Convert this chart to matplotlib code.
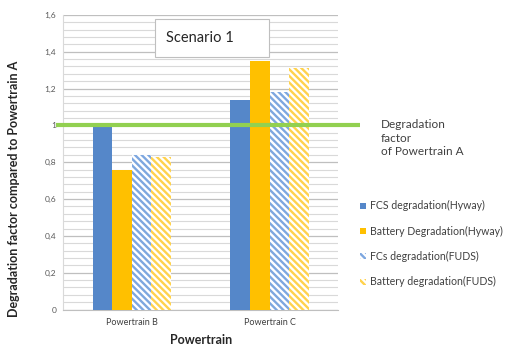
import numpy as np
import matplotlib.pyplot as plt
from matplotlib.patches import Rectangle
from matplotlib.ticker import MultipleLocator, FuncFormatter

plt.rcParams['font.family'] = ['Lato', 'DejaVu Sans']
plt.rcParams['hatch.linewidth'] = 1.7

# data
powertrains = ['Powertrain B', 'Powertrain C']
series_names = ['FCS degradation(Hyway)', 'Battery Degradation(Hyway)',
                'FCs degradation(FUDS)', 'Battery degradation(FUDS)']
fcs_hyway = [0.99, 1.14]
battery_hyway = [0.76, 1.35]
fcs_fuds = [0.84, 1.18]
battery_fuds = [0.83, 1.31]
reference_level = 1.0

blue = '#5587C9'
yellow = '#FFC000'

fig = plt.figure(figsize=(5.05, 3.47), dpi=100)
ax = fig.add_axes([0.125, 0.108, 0.545, 0.849])

x = np.arange(len(powertrains))
w = 0.142
offsets = np.array([-1.5, -0.5, 0.5, 1.5]) * w
series = [fcs_hyway, battery_hyway, fcs_fuds, battery_fuds]
styles = [
    dict(color=blue),
    dict(color=yellow),
    dict(facecolor='white', edgecolor='#7DA7E0', hatch='\\\\\\\\\\', linewidth=0),
    dict(facecolor='white', edgecolor='#FFD24D', hatch='\\\\\\\\\\', linewidth=0),
]
handles = []
for vals, off, st, name in zip(series, offsets, styles, series_names):
    b = ax.bar(x + off, vals, width=w, label=name, zorder=3, **st)
    handles.append(b)

ax.set_xlim(-0.5, 1.5)
ax.set_ylim(0, 1.6)
ax.yaxis.set_major_locator(MultipleLocator(0.2))
ax.yaxis.set_minor_locator(MultipleLocator(0.04))
ax.yaxis.set_major_formatter(FuncFormatter(lambda v, p: ('%g' % round(v, 1)).replace('.', ',')))
ax.grid(axis='y', which='major', color='#BFBFBF', linewidth=0.9, zorder=0)
ax.grid(axis='y', which='minor', color='#D9D9D9', linewidth=0.8, zorder=0)
ax.tick_params(axis='y', which='both', length=0, labelsize=6, labelcolor='#595959', pad=5)
ax.set_xticks(x)
ax.set_xticklabels(powertrains)
ax.tick_params(axis='x', length=0, labelsize=6.5, labelcolor='#404040', pad=6)
for s in ['top', 'right']:
    ax.spines[s].set_visible(False)
ax.spines['left'].set_color('#D9D9D9')
ax.spines['bottom'].set_color('#BFBFBF')

ax.set_ylabel('Degradation factor compared to Powertrain A', fontsize=9,
              fontweight='bold', color='#262626')
ax.yaxis.set_label_coords(-0.155, 0.41)
ax.set_xlabel('Powertrain', fontsize=9, fontweight='bold', color='#262626', labelpad=5)

# reference line of powertrain A, running past the plot area
ax.plot([-0.025, 1.08], [reference_level, reference_level], color='#92D050', linewidth=3,
        transform=ax.get_yaxis_transform(), clip_on=False, zorder=5, solid_capstyle='butt')
fig.text(0.754, 0.602, 'Degradation\nfactor\nof Powertrain A', fontsize=8.5,
         color='#404040', va='center', ha='left', linespacing=1.3)

# "Scenario 1" box
ax.add_patch(Rectangle((0.335, 0.857), 0.414, 0.129, transform=ax.transAxes,
                       facecolor='white', edgecolor='#BFBFBF', linewidth=0.8, zorder=6))
ax.text(0.375, 0.92, 'Scenario 1', transform=ax.transAxes, fontsize=10.5, color='#262626',
        va='center', ha='left', zorder=7)

fig.legend(handles=handles, loc='upper left', bbox_to_anchor=(0.695, 0.45), frameon=False,
           fontsize=7.6, handlelength=0.5, handleheight=0.5, handletextpad=0.4,
           labelspacing=1.35, labelcolor='#404040')

fig.savefig('out.png', dpi=100)
